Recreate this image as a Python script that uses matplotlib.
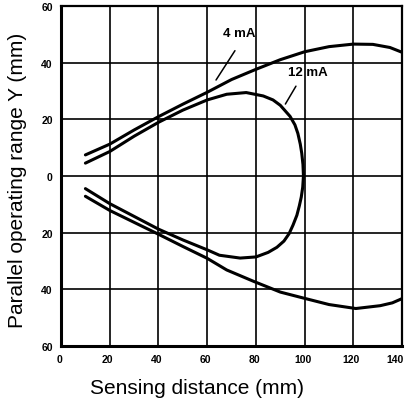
import matplotlib
matplotlib.use("Agg")
import matplotlib.pyplot as plt
from matplotlib.ticker import FuncFormatter
from matplotlib.transforms import ScaledTranslation

# ── data ───────────────────────────────────────────────────────────────────
# 4 mA: outer envelope, upper and lower branches
x_4ma_up = [10, 20, 30, 40, 50, 60, 70, 80, 90, 100, 110, 120, 128, 135, 140]
y_4ma_up = [7.4, 11.2, 16.2, 20.9, 25.3, 29.5, 34.0, 37.6, 41.0, 43.8, 45.6, 46.5, 46.4, 45.3, 43.6]
x_4ma_lo = [10, 20, 30, 40, 50, 60, 68, 79, 90, 99, 110, 121, 131, 136, 140]
y_4ma_lo = [-7.2, -12.2, -16.4, -20.6, -24.9, -29.1, -33.2, -37.2, -41.0, -43.0, -45.4, -46.8, -45.8, -44.8, -43.3]

# 12 mA: closed lobe (upper branch -> tip at ~100 mm -> lower branch)
x_12ma = [10, 20, 30, 40, 50, 60, 68, 76, 83, 87, 90, 94, 96, 97.2, 98.2, 98.8, 99.3, 99.5,
          99.2, 98.6, 97.8, 96.8, 95.2, 93.6, 91.5, 88.6, 85, 80, 73.5, 65, 60, 50, 40, 30, 20, 10]
y_12ma = [4.5, 8.6, 14.0, 18.9, 23.2, 26.8, 28.8, 29.4, 28.2, 26.8, 24.9, 21.0, 18.0, 15.0, 11.2, 8.0, 4.0, 0,
          -4.0, -7.5, -10.6, -13.9, -17.4, -20.4, -23.0, -25.2, -27.0, -28.6, -29.0, -28.0, -26.1, -22.6, -18.8, -14.3, -9.8, -4.5]

x_ticks = [0, 20, 40, 60, 80, 100, 120, 140]
y_ticks = [-60, -40, -20, 0, 20, 40, 60]

labels = ["4 mA", "12 mA"]
label_pos = [(73, 50.5), (101.5, 36.7)]
leader_from = [(72, 45), (97, 32.5)]
leader_to = [(63, 33), (91.5, 24.5)]


def main():
    fig = plt.figure(figsize=(4.07, 4.02), dpi=100)
    ax = fig.add_axes([0.150, 0.137, 0.838, 0.846])

    lw = 2.2
    for xs, ys in [(x_4ma_up, y_4ma_up), (x_4ma_lo, y_4ma_lo), (x_12ma, y_12ma)]:
        ax.plot(xs, ys, color="black", lw=lw, solid_capstyle="round",
                solid_joinstyle="round")

    for txt, pos, p0, p1 in zip(labels, label_pos, leader_from, leader_to):
        ax.text(pos[0], pos[1], txt, ha="center", va="center",
                fontsize=9.5, fontweight="bold", family="Liberation Sans")
        ax.annotate("", xy=p1, xytext=p0,
                    arrowprops=dict(arrowstyle="-", color="black", lw=1.1))

    ax.set_xlim(0, 140)
    ax.set_ylim(-60, 60)
    ax.set_xticks(x_ticks)
    ax.set_yticks(y_ticks)
    ax.yaxis.set_major_formatter(FuncFormatter(lambda v, _: f"{abs(int(v))}"))
    ax.tick_params(length=0, labelsize=7.5, pad=6)
    for lab in ax.get_xticklabels() + ax.get_yticklabels():
        lab.set_fontweight("bold")
        lab.set_family("Liberation Sans")
    # the scanned labels sit a little left of their grid lines
    xlabs = ax.get_xticklabels()
    for i, lab in enumerate(xlabs):
        dx = -7 if i == len(xlabs) - 1 else -2
        lab.set_transform(lab.get_transform() +
                          ScaledTranslation(dx / 100, 0, fig.dpi_scale_trans))

    ax.grid(True, color="black", lw=1.2)
    ax.set_axisbelow(True)
    for side, w in [("left", 2.2), ("bottom", 2.2), ("top", 1.6), ("right", 1.6)]:
        ax.spines[side].set_linewidth(w)

    ax.set_xlabel("Sensing distance (mm)", fontsize=15, family="Liberation Sans")
    ax.set_ylabel("Parallel operating range Y (mm)", fontsize=15,
                  family="Liberation Sans")
    ax.xaxis.set_label_coords(0.40, -0.095)
    ax.yaxis.set_label_coords(-0.10, 0.49)

    fig.savefig("out.png", dpi=100)
    plt.close(fig)


if __name__ == "__main__":
    main()
